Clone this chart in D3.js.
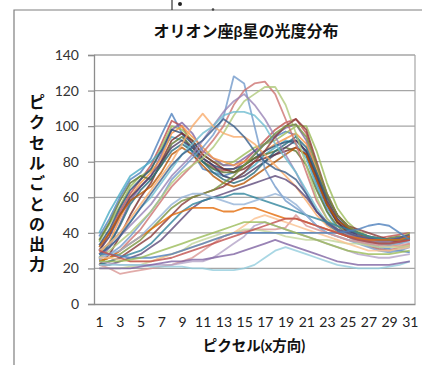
<!DOCTYPE html>
<html><head><meta charset="utf-8">
<script src="https://cdn.jsdelivr.net/npm/d3@7"></script>
<style>
html,body{margin:0;padding:0;background:#fff;}
svg{display:block;}
text{font-family:Lato,"Noto Sans CJK JP",sans-serif;}
</style></head><body>
<script>
const titleText = "オリオン座β星の光度分布";
const xTitle = "ピクセル(x方向)";
const yTitle = "ピクセルごとの出力";
const categories = d3.range(1, 32);
const xTickLabels = [1,3,5,7,9,11,13,15,17,19,21,23,25,27,29,31];
const yTicks = [0,20,40,60,80,100,120,140];

const s01 = [38,48,60,70,74,82,95,107,96,85,76,74,72,74,78,84,90,94,97,95,84,68,54,46,42,38,34,32,31,30,29];
const s02 = [30,40,52,62,70,78,90,103,100,90,80,77,75,76,80,86,92,98,102,104,96,78,60,50,44,40,38,37,38,39,40];
const s03 = [35,45,55,66,72,75,88,100,98,92,84,80,78,80,84,88,90,92,96,100,100,86,68,54,46,41,38,36,35,37,40];
const s04 = [25,32,45,58,66,72,84,98,102,96,86,82,78,78,82,86,90,95,99,101,92,74,58,48,42,38,37,36,36,37,38];
const s05 = [40,52,62,72,76,80,86,94,92,86,80,76,72,70,74,78,84,88,92,90,82,66,52,42,38,35,33,31,30,31,33];
const s06 = [28,35,48,60,68,74,82,96,100,94,88,82,80,78,80,82,86,90,93,96,90,76,60,46,40,37,36,36,34,32,33];
const s07 = [33,42,54,64,70,76,86,98,96,90,82,78,76,76,78,82,86,89,91,92,86,72,56,46,41,38,36,35,34,34,36];
const s08 = [22,28,38,50,60,68,80,92,96,92,84,80,76,74,76,80,82,84,86,88,84,70,56,46,40,37,36,35,35,36,37];
const s09 = [36,46,58,68,72,70,78,90,94,88,80,76,74,74,78,82,84,86,88,86,78,64,52,44,39,36,35,35,37,38,36];
const s10 = [30,38,50,60,66,72,80,88,92,88,82,78,72,70,72,76,80,84,88,92,86,72,58,48,42,39,37,36,36,37,39];
const s11 = [26,34,44,56,64,70,78,86,90,86,80,74,70,68,70,74,80,86,90,94,88,74,60,50,43,40,38,36,36,37,38];
const s12 = [32,40,50,58,62,66,74,84,88,84,78,72,68,66,68,72,76,80,84,88,84,70,56,47,43,40,37,34,33,35,38];
const s13 = [25,28,32,38,45,52,60,70,76,82,88,95,105,128,124,100,76,66,58,54,50,44,40,38,36,34,32,30,29,30,32];
const s14 = [24,26,30,36,42,50,58,66,72,78,85,92,100,112,120,124,125,118,104,90,74,58,48,42,38,35,33,31,30,32,34];
const s15 = [26,30,35,40,46,52,60,68,74,78,82,88,96,106,114,118,122,122,112,96,78,60,48,42,38,36,35,34,34,35,37];
const s16 = [28,32,38,44,50,56,64,72,78,84,92,100,108,114,118,112,104,94,84,74,62,52,46,42,39,37,36,35,35,36,38];
const s17 = [30,34,40,46,54,60,68,76,84,90,96,100,106,108,108,106,100,90,82,74,64,54,46,42,40,38,37,36,36,37,38];
const s18 = [30,34,40,48,56,64,72,80,90,100,107,100,96,94,94,90,84,78,72,66,58,50,44,40,38,36,35,34,34,35,36];
const s19 = [28,32,38,46,54,62,70,78,84,88,92,98,104,100,94,86,80,76,74,70,62,52,45,41,38,36,35,34,34,35,37];
const s20 = [22,24,26,30,34,38,44,50,56,60,62,64,66,70,74,80,86,94,100,104,98,80,62,50,44,42,40,38,36,35,36];
const s21 = [24,26,28,32,36,42,48,54,58,60,62,64,68,72,78,84,90,96,100,101,94,78,62,50,44,40,38,37,36,36,37];
const s22 = [22,22,24,26,28,32,36,42,48,54,58,60,62,64,66,68,70,72,70,66,60,52,46,42,40,38,37,36,36,37,38];
const s23 = [22,24,26,28,30,34,40,46,52,56,58,60,60,62,62,60,58,56,54,52,50,48,46,44,42,40,38,37,36,36,37];
const s24 = [24,26,30,34,38,42,46,50,52,54,54,54,52,52,54,54,52,50,48,48,46,44,42,40,38,37,36,36,36,36,38];
const s25 = [26,28,30,34,38,44,50,56,60,62,62,60,58,56,56,58,60,62,60,56,50,44,40,38,36,35,34,33,33,34,35];
const s26 = [22,20,17,18,19,20,21,22,24,26,30,34,38,40,41,42,42,42,43,50,44,42,40,38,36,35,34,33,32,33,34];
const s27 = [20,20,20,21,22,24,26,28,30,34,36,38,40,40,42,42,41,40,38,37,36,36,36,35,34,34,33,32,32,32,33];
const s28 = [24,23,22,22,22,22,22,22,23,24,24,26,30,34,38,44,46,44,42,40,38,36,34,32,30,28,27,26,26,27,28];
const s29 = [22,22,22,22,22,21,21,21,21,20,20,19,19,19,20,22,26,30,32,30,28,26,24,22,21,20,20,20,21,22,24];
const s30 = [26,26,25,24,24,24,26,28,30,32,34,36,38,40,44,48,50,48,46,44,42,40,38,36,34,32,30,30,30,31,32];
const s31 = [28,28,27,26,26,26,27,28,30,32,34,36,38,40,40,40,40,40,40,40,40,40,40,40,41,42,44,45,44,40,36];
const s32 = [30,28,26,24,24,24,25,26,28,30,32,34,36,38,40,42,44,46,48,48,46,44,42,40,38,36,35,34,34,35,36];
const s33 = [24,24,24,25,26,28,30,32,34,36,38,40,42,44,46,46,46,44,42,40,38,36,34,32,30,29,28,28,28,29,30];
const s34 = [20,20,20,20,21,22,23,24,24,25,25,26,27,28,30,32,34,36,34,32,30,28,26,24,23,22,22,22,22,23,24];

const seriesList = [s01,s02,s03,s04,s05,s06,s07,s08,s09,s10,s11,s12,s13,s14,s15,s16,s17,s18,s19,s20,s21,s22,s23,s24,s25,s26,s27,s28,s29,s30,s31,s32,s33,s34];
const palette = ["#4F81BD","#C0504D","#9BBB59","#8064A2","#4BACC6","#F79646",
  "#2C4D75","#772C2A","#5F7530","#4D3B62","#276A7C","#B65708",
  "#729ACA","#CD7371","#AFC97A","#9983B5","#6FBDD1","#F9AB6B",
  "#3A5F8B","#8A3B39","#7A9440","#5E4A7A","#31859C","#E46C0A",
  "#95B3D7","#D99694","#C3D69B","#B3A2C7","#93CDDD","#FAC090",
  "#4F81BD","#C0504D","#9BBB59","#8064A2"];

const W = 422, H = 365;
const svg = d3.select("body").append("svg").attr("width", W).attr("height", H);

// outer chart frame
svg.append("path").attr("d", "M14,365 L14,10 L422,10").attr("fill","none").attr("stroke","#7f7f7f").attr("stroke-width",1.2);
svg.append("line").attr("x1",172).attr("x2",172).attr("y1",0).attr("y2",10).attr("stroke","#333").attr("stroke-width",1.2);
svg.append("circle").attr("cx",180).attr("cy",4).attr("r",2).attr("fill","#222");
svg.append("circle").attr("cx",213).attr("cy",9.5).attr("r",1.3).attr("fill","#444");

const pLeft = 94, pRight = 415, pTop = 55, pBottom = 304;
const x = d3.scalePoint().domain(categories).range([pLeft, pRight]).padding(0.5);
const y = d3.scaleLinear().domain([0, 140]).range([pBottom, pTop]);

// gridlines
svg.append("g").selectAll("line").data(yTicks.filter(v => v > 0)).join("line")
  .attr("x1", pLeft).attr("x2", pRight).attr("y1", d => y(d)).attr("y2", d => y(d))
  .attr("stroke", "#a6a6a6").attr("stroke-width", 1.3);

// y axis
const yAxis = d3.axisLeft(y).tickValues(yTicks).tickSize(6).tickPadding(9);
const gy = svg.append("g").attr("transform", `translate(${pLeft},0)`).call(yAxis);
gy.select(".domain").attr("stroke", "#8c8c8c").attr("stroke-width", 1.3);
gy.selectAll(".tick line").attr("stroke", "#8c8c8c").attr("stroke-width", 1.2);
gy.selectAll(".tick text").attr("font-size", 14).attr("fill", "#333").attr("font-family", "Lato, sans-serif");

// x axis
const xAxis = d3.axisBottom(x).tickValues(xTickLabels).tickSize(0).tickPadding(13);
const gx = svg.append("g").attr("transform", `translate(0,${pBottom})`).call(xAxis);
gx.select(".domain").attr("stroke", "#8c8c8c").attr("stroke-width", 1.3);
gx.selectAll(".tick text").attr("font-size", 14).attr("fill", "#222").attr("font-family", "Lato, sans-serif");

// right border of plot area
svg.append("line").attr("x1", pRight).attr("x2", pRight).attr("y1", pTop).attr("y2", pBottom).attr("stroke", "#a6a6a6").attr("stroke-width", 1.2);

// lines
const line = d3.line().x((d, i) => x(categories[i])).y(d => y(d));
svg.append("g").selectAll("path").data(seriesList).join("path")
  .attr("d", d => line(d))
  .attr("fill", "none")
  .attr("stroke", (d, i) => palette[i % palette.length])
  .attr("stroke-width", 1.8)
  .attr("stroke-opacity", 0.8)
  .attr("stroke-linejoin", "round");

// title
svg.append("text").attr("x", 246).attr("y", 37).attr("text-anchor", "middle")
  .attr("font-size", 16).attr("font-weight", "bold").attr("fill", "#111")
  .attr("font-family", "'Noto Sans CJK JP', sans-serif").text(titleText);

// x title
svg.append("text").attr("x", 254).attr("y", 351).attr("text-anchor", "middle")
  .attr("font-size", 14.5).attr("font-weight", "bold").attr("fill", "#111")
  .attr("font-family", "'Noto Sans CJK JP', sans-serif").text(xTitle);

// y title, vertical stacked characters
svg.append("g").selectAll("text").data(Array.from(yTitle)).join("text")
  .attr("x", 37).attr("y", (d, i) => 108 + i * 20.3)
  .attr("text-anchor", "middle")
  .attr("font-size", 16).attr("font-weight", "bold").attr("fill", "#111")
  .attr("font-family", "'Noto Sans CJK JP', sans-serif").text(d => d);
</script>
</body></html>
